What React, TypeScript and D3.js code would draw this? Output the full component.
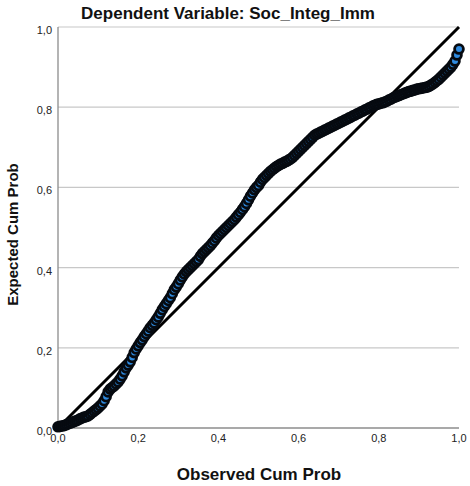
import React from "react";
import * as d3 from "d3";

const observed: number[] = [
  0.000, 0.005, 0.010, 0.015, 0.020, 0.025, 0.030, 0.035, 0.040, 0.045, 0.050, 0.055, 0.060, 0.065, 0.070, 0.075, 0.080, 0.085, 0.090, 0.095,
  0.100, 0.105, 0.110, 0.115, 0.120, 0.125, 0.130, 0.135, 0.140, 0.145, 0.150, 0.155, 0.160, 0.165, 0.170, 0.175, 0.180, 0.185, 0.190, 0.195,
  0.200, 0.205, 0.210, 0.215, 0.220, 0.225, 0.230, 0.235, 0.240, 0.245, 0.250, 0.255, 0.260, 0.265, 0.270, 0.275, 0.280, 0.285, 0.290, 0.295,
  0.300, 0.305, 0.310, 0.315, 0.320, 0.325, 0.330, 0.335, 0.340, 0.345, 0.350, 0.355, 0.360, 0.365, 0.370, 0.375, 0.380, 0.385, 0.390, 0.395,
  0.400, 0.405, 0.410, 0.415, 0.420, 0.425, 0.430, 0.435, 0.440, 0.445, 0.450, 0.455, 0.460, 0.465, 0.470, 0.475, 0.480, 0.485, 0.490, 0.495,
  0.500, 0.505, 0.510, 0.515, 0.520, 0.525, 0.530, 0.535, 0.540, 0.545, 0.550, 0.555, 0.560, 0.565, 0.570, 0.575, 0.580, 0.585, 0.590, 0.595,
  0.600, 0.605, 0.610, 0.615, 0.620, 0.625, 0.630, 0.635, 0.640, 0.645, 0.650, 0.655, 0.660, 0.665, 0.670, 0.675, 0.680, 0.685, 0.690, 0.695,
  0.700, 0.705, 0.710, 0.715, 0.720, 0.725, 0.730, 0.735, 0.740, 0.745, 0.750, 0.755, 0.760, 0.765, 0.770, 0.775, 0.780, 0.785, 0.790, 0.795,
  0.800, 0.805, 0.810, 0.815, 0.820, 0.825, 0.830, 0.835, 0.840, 0.845, 0.850, 0.855, 0.860, 0.865, 0.870, 0.875, 0.880, 0.885, 0.890, 0.895,
  0.900, 0.905, 0.910, 0.915, 0.920, 0.925, 0.930, 0.935, 0.940, 0.945, 0.950, 0.955, 0.960, 0.965, 0.970, 0.975, 0.980, 0.985, 0.990, 0.995,
  1.000,
];
const expected: number[] = [
  0.003, 0.004, 0.005, 0.006, 0.008, 0.010, 0.012, 0.014, 0.016, 0.018, 0.020, 0.023, 0.025, 0.027, 0.028, 0.030, 0.034, 0.038, 0.042, 0.046,
  0.050, 0.055, 0.060, 0.068, 0.078, 0.090, 0.097, 0.101, 0.105, 0.110, 0.115, 0.122, 0.130, 0.140, 0.150, 0.157, 0.165, 0.176, 0.188, 0.197,
  0.205, 0.213, 0.220, 0.228, 0.235, 0.242, 0.250, 0.256, 0.262, 0.270, 0.277, 0.286, 0.295, 0.303, 0.310, 0.318, 0.325, 0.335, 0.345, 0.352,
  0.360, 0.369, 0.377, 0.384, 0.390, 0.395, 0.400, 0.405, 0.410, 0.415, 0.420, 0.428, 0.435, 0.440, 0.445, 0.450, 0.455, 0.461, 0.467, 0.474,
  0.480, 0.485, 0.490, 0.495, 0.500, 0.505, 0.510, 0.515, 0.520, 0.526, 0.532, 0.538, 0.545, 0.552, 0.560, 0.569, 0.578, 0.586, 0.594, 0.600,
  0.605, 0.613, 0.620, 0.625, 0.630, 0.635, 0.640, 0.644, 0.648, 0.652, 0.655, 0.658, 0.660, 0.663, 0.665, 0.668, 0.671, 0.675, 0.680, 0.685,
  0.690, 0.695, 0.700, 0.705, 0.710, 0.715, 0.720, 0.725, 0.730, 0.733, 0.735, 0.738, 0.740, 0.743, 0.745, 0.748, 0.750, 0.753, 0.755, 0.758,
  0.760, 0.763, 0.765, 0.768, 0.770, 0.773, 0.775, 0.778, 0.780, 0.783, 0.785, 0.788, 0.790, 0.793, 0.795, 0.798, 0.800, 0.803, 0.805, 0.807,
  0.808, 0.810, 0.811, 0.813, 0.815, 0.818, 0.820, 0.823, 0.825, 0.827, 0.829, 0.831, 0.833, 0.835, 0.837, 0.839, 0.840, 0.842, 0.843, 0.845,
  0.846, 0.847, 0.848, 0.849, 0.850, 0.852, 0.855, 0.858, 0.862, 0.866, 0.870, 0.875, 0.880, 0.885, 0.890, 0.895, 0.900, 0.907, 0.915, 0.930,
  0.945,
];
const tickValues: number[] = [0, 0.2, 0.4, 0.6, 0.8, 1.0];
const gridValues: number[] = [0.2, 0.4, 0.6, 0.8, 1.0];
const titleText = "Dependent Variable: Soc_Integ_Imm";
const xLabel = "Observed Cum Prob";
const yLabel = "Expected Cum Prob";

const W = 470;
const H = 486;
const x0 = 58;
const x1 = 459;
const yTop = 27;
const yBot = 428;

export default function App() {
  const x = d3.scaleLinear().domain([0, 1]).range([x0, x1]);
  const y = d3.scaleLinear().domain([0, 1]).range([yBot, yTop]);
  const fmt = (v: number) => v.toFixed(1).replace(".", ",");
  const pts = observed.map((o, i) => [o, expected[i]] as [number, number]);
  const font = "'Liberation Sans', Arial, sans-serif";
  return (
    <svg
      width={W}
      height={H}
      style={{ position: "absolute", left: 0, top: 0, background: "#fff" }}
      fontFamily={font}
    >
      <rect x={0} y={0} width={W} height={H} fill="#fff" />
      {gridValues.map((g) => (
        <line key={g} x1={x(0)} x2={x(1)} y1={y(g)} y2={y(g)} stroke="#c8c8c8" strokeWidth={1.2} />
      ))}
      <line x1={x(0)} x2={x(0)} y1={y(1)} y2={y(0)} stroke="#8c8c8c" strokeWidth={1.3} />
      <line x1={x(0)} x2={x(1)} y1={y(0)} y2={y(0)} stroke="#8c8c8c" strokeWidth={1.3} />
      {tickValues.map((t) => (
        <text key={"y" + t} x={52} y={y(t) + 7} textAnchor="end" fontSize={11} fill="#222">
          {fmt(t)}
        </text>
      ))}
      {tickValues.map((t) => (
        <text key={"x" + t} x={x(t)} y={442} textAnchor="middle" fontSize={11} fill="#222">
          {fmt(t)}
        </text>
      ))}
      <line x1={x(0)} y1={y(0)} x2={x(1)} y2={y(1)} stroke="#000" strokeWidth={3} />
      {pts.map((p, i) => (
        <circle
          key={i}
          cx={x(p[0])}
          cy={y(p[1])}
          r={4.4}
          fill="#2f8be0"
          stroke="#060a10"
          strokeWidth={2.8}
        />
      ))}
      <text x={228} y={19} textAnchor="middle" fontSize={17} fontWeight="bold" fill="#111">
        {titleText}
      </text>
      <text x={259} y={480} textAnchor="middle" fontSize={17} fontWeight="bold" fill="#111">
        {xLabel}
      </text>
      <text
        transform={`translate(18, 234.5) rotate(-90)`}
        textAnchor="middle"
        fontSize={15}
        fontWeight="bold"
        fill="#111"
      >
        {yLabel}
      </text>
    </svg>
  );
}
